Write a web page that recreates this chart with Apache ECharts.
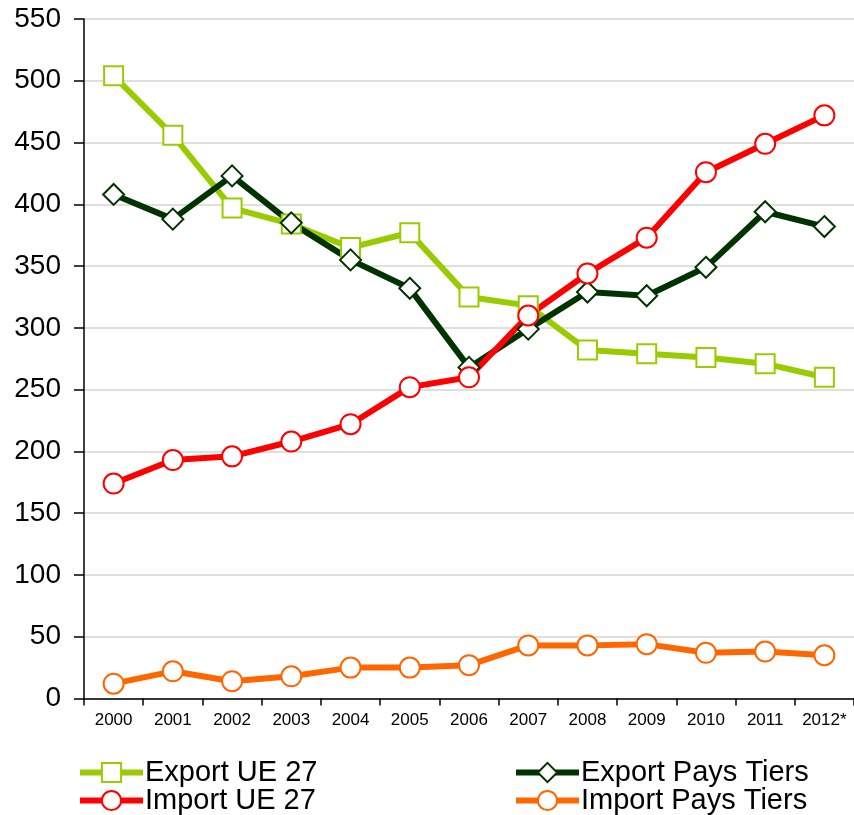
<!DOCTYPE html>
<html><head><meta charset="utf-8">
<script src="https://cdn.jsdelivr.net/npm/echarts@6/dist/echarts.min.js"></script>
<style>html,body{margin:0;padding:0;background:#fff}#c{width:854px;height:815px}</style>
</head><body><div id="c"></div>
<script>
const categories = ['2000','2001','2002','2003','2004','2005','2006','2007','2008','2009','2010','2011','2012*'];
const exportUE = [504, 456, 397, 384, 365, 377, 325, 318, 282, 279, 276, 271, 260];
const exportTiers = [408, 388, 423, 385, 355, 332, 268, 299, 329, 326, 349, 394, 382];
const importUE = [174, 193, 196, 208, 222, 252, 260, 310, 344, 373, 426, 449, 472];
const importTiers = [12, 22, 14, 18, 25, 25, 27, 43, 43, 44, 37, 38, 35];
const yTicks = [0, 50, 100, 150, 200, 250, 300, 350, 400, 450, 500, 550];

const font = 'Liberation Sans, Arial, sans-serif';
function ser(name, data, color, symbol, size) {
  return {
    name, type: 'line', data, symbol, symbolSize: size,
    lineStyle: {color, width: 6},
    itemStyle: {color: '#fff', borderColor: color, borderWidth: 2},
    z: 2
  };
}
function leg(name, left, top) {
  return {
    left, top, padding: 0, itemWidth: 63, itemHeight: 24, itemGap: 0,
    data: [name],
    lineStyle: {width: 6},
    textStyle: {color: '#000', fontSize: 29, fontFamily: font, padding: [0,0,0,-3]}
  };
}
const chart = echarts.init(document.getElementById('c'));
chart.setOption({
  animation: false,
  backgroundColor: '#fff',
  grid: {left: 84, right: -4, top: 19, bottom: 116.5},
  xAxis: {
    type: 'category', data: categories, boundaryGap: true,
    axisLine: {lineStyle: {color: '#000', width: 1.5}},
    axisTick: {show: true, length: 7, lineStyle: {color: '#000', width: 1.5}},
    axisLabel: {color: '#000', fontSize: 17, fontFamily: font, margin: 13}
  },
  yAxis: {
    type: 'value', min: yTicks[0], max: yTicks[yTicks.length-1], interval: 50,
    axisLine: {show: true, lineStyle: {color: '#000', width: 1.5}},
    axisTick: {show: true, length: 10, lineStyle: {color: '#000', width: 1.5}},
    axisLabel: {color: '#000', fontSize: 28, fontFamily: font, margin: 23},
    splitLine: {lineStyle: {color: '#d4d4d4', width: 1.5}}
  },
  legend: [
    leg('Export UE 27', 77, 758),
    leg('Import UE 27', 77, 786),
    leg('Export Pays Tiers', 513, 758),
    leg('Import Pays Tiers', 513, 786)
  ],
  series: [
    ser('Export UE 27', exportUE, '#99cc00', 'rect', 19),
    ser('Export Pays Tiers', exportTiers, '#003300', 'diamond', 21),
    ser('Import UE 27', importUE, '#ff0000', 'circle', 20),
    ser('Import Pays Tiers', importTiers, '#ff6600', 'circle', 20)
  ]
});
</script></body></html>
